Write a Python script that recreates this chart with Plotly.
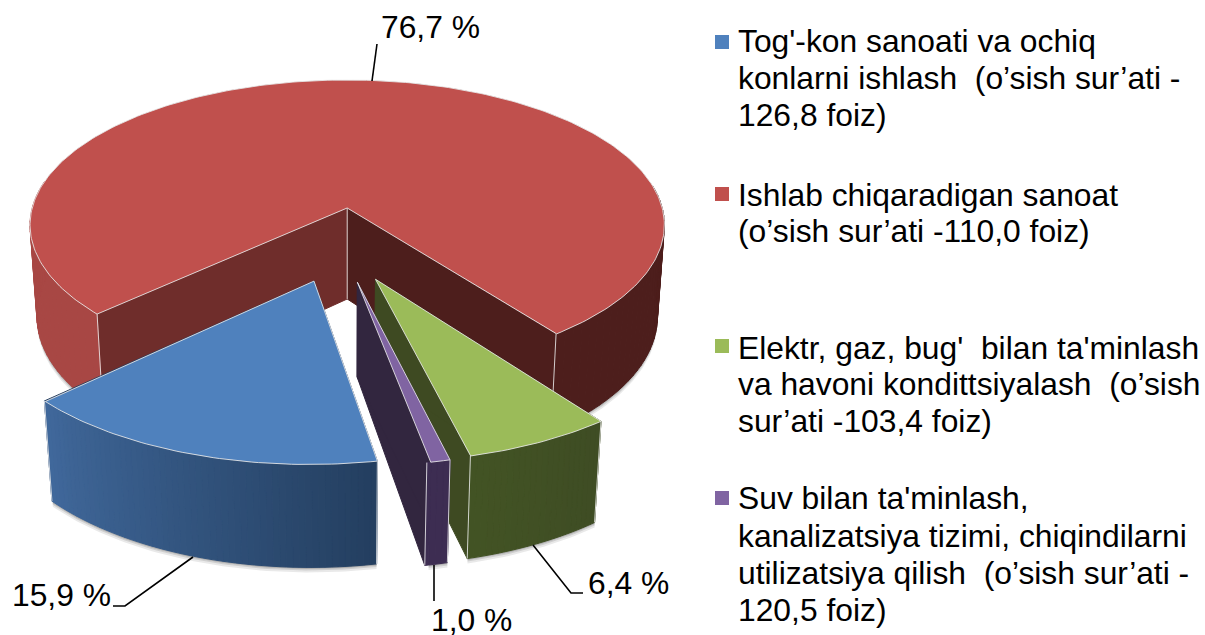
import math
import numpy as np
import plotly.graph_objects as go

# ---- data ----
categories = ["Tog'-kon sanoati", "Ishlab chiqaradigan sanoat", "Elektr, gaz, bug'", "Suv bilan ta'minlash"]
values = [15.9, 76.7, 6.4, 1.0]
legend_lines = [
    ["Tog'-kon sanoati va ochiq", "konlarni ishlash\u00a0 (o’sish sur’ati -", "126,8 foiz)"],
    ["Ishlab chiqaradigan sanoat", "(o’sish sur’ati -110,0 foiz)"],
    ["Elektr, gaz, bug'\u00a0 bilan ta'minlash", "va havoni kondittsiyalash\u00a0 (o’sish", "sur’ati -103,4 foiz)"],
    ["Suv bilan ta'minlash,", "kanalizatsiya tizimi, chiqindilarni", "utilizatsiya qilish\u00a0 (o’sish sur’ati -", "120,5 foiz)"],
]

# ---- style / layout ----
top_colors = ["#4F81BD", "#C0504D", "#9BBB59", "#8064A2"]
face_colors = [("#2A4263", "#2A4263"), ("#6F2D2B", "#4D1E1C"), ("#3E4A22", "#3E4A22"), ("#32263F", "#32263F")]
wall_stops = [
    ([170, 227], ["#243F60", "#41699C"]),
    ([90, 143, 227, 275], ["#4D1E1C", "#4D1E1C", "#A84744", "#A84744"]),
    ([143, 166], ["#3F4D24", "#435425"]),
    ([166, 170], ["#3D2D52", "#3D2D52"]),
]
START = 169.7
CX, CY, R, RK, P, Q, H = 347.0, 208.0, 315.0, 143.0, 0.117, 0.022, 93.0
A, B, D = -0.021, 0.247, 0.248
EDGE = "rgba(235,235,235,0.85)"
FONT = "Liberation Sans"
FS = 31.8
legend_marker_y = [42, 194, 346, 498]
legend_line_y = [[44, 81, 118], [198, 234], [351, 387, 424], [501, 539, 576, 613]]
LEG_X, MARK_X = 738, 722
label_pos = [(12, 598), (381, 30), (588, 586), (431, 623)]
leaders = [
    [(193, 557), (125, 606), (113, 606)],
    [(372, 81), (377, 44)],
    [(533, 545), (571, 593), (583, 593)],
    [(434, 565), (434, 601)],
]


def project(u, v, t):
    w = 1 - P * v + Q * t
    return CX + R * u / w, CY + (RK * v + H * t) / w


def hex2rgb(c):
    return np.array([int(c[i:i + 2], 16) for i in (1, 3, 5)], float)


def wall_color(i, th):
    xs, cs = wall_stops[i]
    th = th % 360
    rgb = [np.interp(th, xs, [hex2rgb(c)[k] for c in cs]) for k in range(3)]
    return "rgb(%d,%d,%d)" % tuple(rgb)


fig = go.Figure()


def poly(pts, fill, line=None, width=1):
    xs = [p[0] for p in pts] + [pts[0][0]]
    ys = [p[1] for p in pts] + [pts[0][1]]
    fig.add_trace(go.Scatter(x=xs, y=ys, mode="lines", fill="toself", fillcolor=fill,
                             line=dict(color=line or fill, width=width), hoverinfo="skip", showlegend=False))


def edge(pts, color=EDGE, width=1):
    fig.add_trace(go.Scatter(x=[p[0] for p in pts], y=[p[1] for p in pts], mode="lines",
                             line=dict(color=color, width=width), hoverinfo="skip", showlegend=False))


# slice angles follow from the values
total = sum(values)
angles = []
a = START
for val in values:
    b = a + 360 * val / total
    angles.append((a, b))
    a = b


def pt(ang, ox, oy):
    r = math.radians(ang)
    return ox + math.sin(r), oy - math.cos(r)


for i in [1, 2, 3, 0]:
    a0, a1 = angles[i]
    mid = math.radians((a0 + a1) / 2)
    ox = A + D * math.sin(mid)
    oy = B - D * math.cos(mid)
    # soft shadow below the outer wall
    th = np.arange(a0, a1 + 0.01, 1.0)
    for dy, dx_alpha in ((5, 0.10), (3, 0.14), (1.5, 0.2)):
        low = [project(*pt(t, ox, oy), 1) for t in th]
        up = [project(*pt(t, ox, oy), 0) for t in th]
        poly([(x, y + dy) for x, y in low] + up[::-1], "rgba(40,40,40,%g)" % dx_alpha, line="rgba(0,0,0,0)")
    # inner faces
    f0, f1 = face_colors[i]
    for ang, col in ((a1, f1), (a0, f0)):
        p = pt(ang, ox, oy)
        poly([project(ox, oy, 0), project(*p, 0), project(*p, 1), project(ox, oy, 1)], col)
    # outer wall, one quad per colour step
    step = 1.0 if (a1 - a0) < 100 else 2.0
    angs = [t for t in np.arange(a0, a1, step)] + [a1]
    for t0, t1 in zip(angs[:-1], angs[1:]):
        tm = (t0 + t1) / 2 % 360
        if 80 < tm < 280:
            p0, p1 = pt(t0, ox, oy), pt(t1, ox, oy)
            poly([project(*p0, 0), project(*p1, 0), project(*p1, 1), project(*p0, 1)], wall_color(i, tm))
    # vertical edges
    for ang in (a0, a1):
        p = pt(ang, ox, oy)
        edge([project(*p, 0), project(*p, 1)])
    if i == 1:
        edge([project(ox, oy, 0), project(ox, oy, 1)])
    # top face
    th = np.arange(a0, a1 + 0.01, 1.0)
    pts = [project(ox, oy, 0)] + [project(*pt(t, ox, oy), 0) for t in th]
    poly(pts, top_colors[i], line=EDGE)

# leader lines and value labels
for seg in leaders:
    edge(seg, color="#000000", width=1.6)
for val, (x, y) in zip(values, label_pos):
    fig.add_trace(go.Scatter(x=[x], y=[y], mode="text", text=[f"{val:.1f} %".replace(".", ",")],
                             textposition="middle right", textfont=dict(family=FONT, size=FS, color="#000000"),
                             hoverinfo="skip", showlegend=False))

# legend
for color, my, lines, ys in zip(top_colors, legend_marker_y, legend_lines, legend_line_y):
    fig.add_trace(go.Scatter(x=[MARK_X], y=[my], mode="markers",
                             marker=dict(symbol="square", size=14, color=color), hoverinfo="skip", showlegend=False))
    fig.add_trace(go.Scatter(x=[LEG_X] * len(lines), y=ys, mode="text", text=lines,
                             textposition="middle right", textfont=dict(family=FONT, size=FS, color="#000000"),
                             hoverinfo="skip", showlegend=False))

fig.update_layout(
    width=1205, height=635, margin=dict(l=0, r=0, t=0, b=0),
    paper_bgcolor="#FFFFFF", plot_bgcolor="#FFFFFF", showlegend=False,
    xaxis=dict(range=[0, 1205], visible=False, fixedrange=True),
    yaxis=dict(range=[635, 0], visible=False, fixedrange=True),
)
fig.write_html("out.html", config={"displayModeBar": False},
               post_script="document.body.style.margin='0';document.body.style.overflow='hidden';")
